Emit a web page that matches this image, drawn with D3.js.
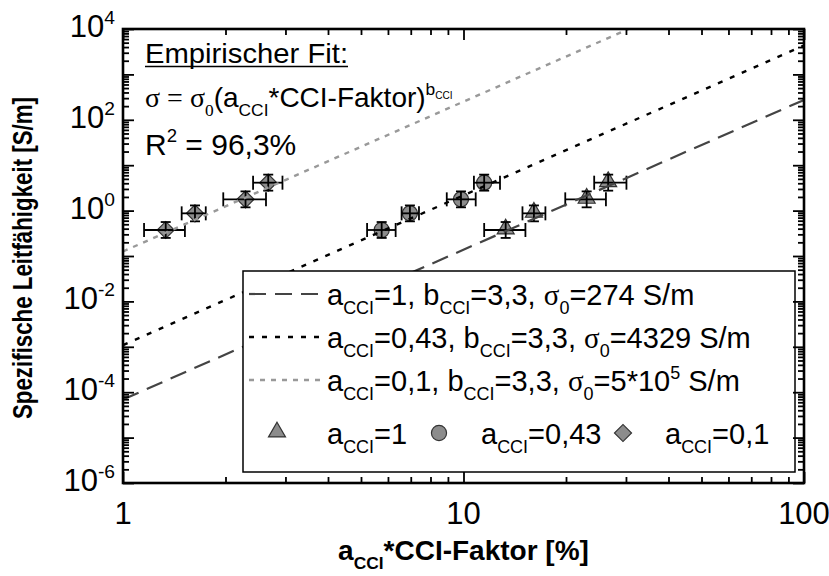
<!DOCTYPE html>
<html>
<head>
<meta charset="utf-8">
<script src="https://cdn.jsdelivr.net/npm/d3@7"></script>
<style>
  body { margin: 0; background: #fff; }
  text { font-family: "Liberation Sans", Arial, sans-serif; fill: #000; }
</style>
</head>
<body>
<svg id="chart" width="829" height="576"></svg>
<script>
// measured values, x = a_CCI*CCI-Faktor [%], y = sigma [S/m]
var sigma   = [0.374, 0.87, 1.77, 4.12];
var sigmaLo = [0.25, 0.58, 1.18, 2.75];
var sigmaHi = [0.56, 1.30, 2.65, 6.20];

var xTri   = [13.3, 16.1, 23.0, 26.6];   // a_CCI = 1
var xTriLo = [11.5, 14.9, 19.9, 24.2];
var xTriHi = [15.2, 17.4, 26.2, 30.1];

var xCirc   = [5.75, 6.96, 9.83, 11.5];  // a_CCI = 0,43
var xCircLo = [5.21, 6.58, 8.93, 10.73];
var xCircHi = [6.32, 7.40, 10.86, 12.8];

var xDia   = [1.335, 1.627, 2.29, 2.67]; // a_CCI = 0,1
var xDiaLo = [1.153, 1.487, 1.97, 2.41];
var xDiaHi = [1.52, 1.75, 2.63, 2.94];

// fit lines: value at x = 1 and x = 100
var fitX    = [1, 100];
var fitA1   = [6.9e-5, 274];
var fitA043 = [1.09e-3, 4329];
var fitA01  = [0.126, 5e5];

var xTickLabels = ["1", "10", "100"];
var yExponents  = [4, 2, 0, -2, -4, -6];

var margin = {top: 29, right: 25, bottom: 93, left: 123},
    width = 829 - margin.left - margin.right,
    height = 576 - margin.top - margin.bottom;

var svg = d3.select("#chart");
var g = svg.append("g").attr("transform", "translate(" + margin.left + "," + margin.top + ")");

var x = d3.scaleLog().domain([1, 100]).range([0, width]);
var y = d3.scaleLog().domain([1e-6, 1e4]).range([height, 0]);

g.append("clipPath").attr("id", "clip")
  .append("rect").attr("width", width).attr("height", height);

var plot = g.append("g").attr("clip-path", "url(#clip)");

// rich text helper: parts = [text, kind]
function rich(sel, parts, size) {
  var off = 0;
  parts.forEach(function(p) {
    var kind = p[1] || "";
    var target = 0, fs = size, fam = null;
    if (kind == "sub") { target = size * 0.32; fs = size * 0.62; }
    if (kind == "ssub") { target = size * 0.32; fs = size * 0.62; fam = "Liberation Serif, Times New Roman, serif"; }
    if (kind == "sup") { target = -size * 0.42; fs = size * 0.62; }
    if (kind == "supsub") { target = -size * 0.3; fs = size * 0.36; }
    if (kind == "serif") { fam = "Liberation Serif, Times New Roman, serif"; }
    var t = sel.append("tspan").attr("dy", target - off).style("font-size", fs + "px").text(p[0]);
    if (fam) t.style("font-family", fam);
    off = target;
  });
}

// fit lines
var fitLine = d3.line().x(function(d) { return x(d[0]); }).y(function(d) { return y(d[1]); });
var fits = [
  {vals: fitA1, color: "#444", dash: "17,9", w: 2.2},
  {vals: fitA043, color: "#000", dash: "5,8", w: 2.4},
  {vals: fitA01, color: "#999", dash: "5,6", w: 2.4}
];

// markers
var groups = [
  {xs: xTri, lo: xTriLo, hi: xTriHi, sym: d3.symbol(d3.symbolTriangle, 125), rot: 0, dy: -1},
  {xs: xCirc, lo: xCircLo, hi: xCircHi, sym: d3.symbol(d3.symbolCircle, 180), rot: 0, dy: 0},
  {xs: xDia, lo: xDiaLo, hi: xDiaHi, sym: d3.symbol(d3.symbolSquare, 145), rot: 45, dy: 0}
];

groups.forEach(function(gr) {
  gr.xs.forEach(function(xv, i) {
    plot.append("path")
      .attr("d", gr.sym())
      .attr("transform", "translate(" + x(xv) + "," + (y(sigma[i]) + gr.dy) + ") rotate(" + gr.rot + ")")
      .attr("fill", "#8c8c8c").attr("stroke", "#333").attr("stroke-width", 1.2);
  });
});

// error bars
groups.forEach(function(gr) {
  gr.xs.forEach(function(xv, i) {
    var cx = x(xv), cy = y(sigma[i]);
    var eb = plot.append("g").attr("stroke", "#000").attr("stroke-width", 1.8).attr("fill", "none");
    eb.append("line").attr("x1", x(gr.lo[i])).attr("x2", x(gr.hi[i])).attr("y1", cy).attr("y2", cy);
    eb.append("line").attr("x1", x(gr.lo[i])).attr("x2", x(gr.lo[i])).attr("y1", cy - 7).attr("y2", cy + 7);
    eb.append("line").attr("x1", x(gr.hi[i])).attr("x2", x(gr.hi[i])).attr("y1", cy - 7).attr("y2", cy + 7);
    eb.append("line").attr("x1", cx).attr("x2", cx).attr("y1", y(sigmaLo[i])).attr("y2", y(sigmaHi[i]));
    eb.append("line").attr("x1", cx - 5).attr("x2", cx + 5).attr("y1", y(sigmaLo[i])).attr("y2", y(sigmaLo[i]));
    eb.append("line").attr("x1", cx - 5).attr("x2", cx + 5).attr("y1", y(sigmaHi[i])).attr("y2", y(sigmaHi[i]));
  });
});

fits.forEach(function(f) {
  plot.append("path")
    .datum(fitX.map(function(xv, i) { return [xv, f.vals[i]]; }))
    .attr("d", fitLine)
    .attr("fill", "none").attr("stroke", f.color)
    .attr("stroke-width", f.w).attr("stroke-dasharray", f.dash);
});

// annotation
var ann = g.append("g").attr("transform", "translate(22,0)");
ann.append("text").attr("x", 0).attr("y", 34).style("font-size", "28px")
  .attr("textLength", 203).attr("lengthAdjust", "spacingAndGlyphs").text("Empirischer Fit:");
ann.append("line").attr("x1", 0).attr("x2", 203).attr("y1", 37.5).attr("y2", 37.5)
  .attr("stroke", "#000").attr("stroke-width", 1.6);
var f1 = ann.append("text").attr("x", 0).attr("y", 78).style("font-size", "28px");
rich(f1, [["\u03c3 = \u03c3", "serif"], ["0", "ssub"], ["(a", ""], ["CCI", "sub"], ["*CCI-Faktor)", ""], ["b", "sup"], ["CCI", "supsub"]], 28);
var f2 = ann.append("text").attr("x", 0).attr("y", 126).style("font-size", "30px");
rich(f2, [["R", ""], ["2", "sup"], [" = 96,3%", ""]], 30);

// legend
var lg = g.append("g").attr("transform", "translate(" + (243 - margin.left) + "," + (271 - margin.top) + ")");
lg.append("rect").attr("width", 552).attr("height", 201)
  .attr("fill", "#fff").attr("stroke", "#000").attr("stroke-width", 1.5);
var legRows = [
  [["a", ""], ["CCI", "sub"], ["=1, b", ""], ["CCI", "sub"], ["=3,3, ", ""], ["\u03c3", "serif"], ["0", "sub"], ["=274 S/m", ""]],
  [["a", ""], ["CCI", "sub"], ["=0,43, b", ""], ["CCI", "sub"], ["=3,3, ", ""], ["\u03c3", "serif"], ["0", "sub"], ["=4329 S/m", ""]],
  [["a", ""], ["CCI", "sub"], ["=0,1, b", ""], ["CCI", "sub"], ["=3,3, ", ""], ["\u03c3", "serif"], ["0", "sub"], ["=5*10", ""], ["5", "sup"], [" S/m", ""]]
];
legRows.forEach(function(parts, i) {
  var ly = 23 + i * 43;
  lg.append("line").attr("x1", 6).attr("x2", 78).attr("y1", ly).attr("y2", ly)
    .attr("stroke", fits[i].color).attr("stroke-width", fits[i].w).attr("stroke-dasharray", fits[i].dash);
  var t = lg.append("text").attr("x", 84).attr("y", ly + 11).style("font-size", "29px");
  rich(t, parts, 29);
});
var symRow = [
  {sx: 34, tx: 84, label: "=1"},
  {sx: 196, tx: 238, label: "=0,43"},
  {sx: 380, tx: 422, label: "=0,1"}
];
symRow.forEach(function(s, i) {
  lg.append("path").attr("d", groups[i].sym())
    .attr("transform", "translate(" + s.sx + "," + (162 + groups[i].dy) + ") rotate(" + groups[i].rot + ")")
    .attr("fill", "#8c8c8c").attr("stroke", "#333").attr("stroke-width", 1.2);
  var t = lg.append("text").attr("x", s.tx).attr("y", 173).style("font-size", "29px");
  rich(t, [["a", ""], ["CCI", "sub"], [s.label, ""]], 29);
});

// axes with inward ticks on all four sides
var xMinor = [], yMinor = [];
[1, 10].forEach(function(d) { for (var k = 2; k <= 9; k++) xMinor.push(d * k); });
for (var e = -6; e < 4; e++) for (var k = 2; k <= 9; k++) yMinor.push(k * Math.pow(10, e));
var xMajor = [1, 10, 100];
var yMajor = d3.range(-6, 5).map(function(e) { return Math.pow(10, e); });

function ticks(axisFn, scale, vals, len, transform) {
  g.append("g").attr("transform", transform)
    .call(axisFn(scale).tickValues(vals).tickSize(-len).tickFormat(""))
    .call(function(s) { s.select(".domain").remove(); s.selectAll("line").attr("stroke-width", 1.8); });
}
ticks(d3.axisBottom, x, xMinor, 6, "translate(0," + height + ")");
ticks(d3.axisBottom, x, xMajor, 11, "translate(0," + height + ")");
ticks(d3.axisTop, x, xMinor, 6, "translate(0,0)");
ticks(d3.axisTop, x, xMajor, 11, "translate(0,0)");
ticks(d3.axisLeft, y, yMinor, 6, "translate(0,0)");
ticks(d3.axisLeft, y, yMajor, 11, "translate(0,0)");
ticks(d3.axisRight, y, yMinor, 6, "translate(" + width + ",0)");
ticks(d3.axisRight, y, yMajor, 11, "translate(" + width + ",0)");

g.append("rect").attr("width", width).attr("height", height)
  .attr("fill", "none").attr("stroke", "#000").attr("stroke-width", 2.6);

// tick labels
xTickLabels.forEach(function(lbl) {
  g.append("text").attr("x", x(+lbl)).attr("y", height + 41)
    .attr("text-anchor", "middle").style("font-size", "31px").text(lbl);
});
yExponents.forEach(function(e) {
  var t = g.append("text").attr("x", -8).attr("y", y(Math.pow(10, e)) + 8)
    .attr("text-anchor", "end").style("font-size", "31px");
  rich(t, [["10", ""], [String(e), "sup"]], 31);
});

// axis titles
var xt = g.append("text").attr("x", width / 2).attr("y", height + 77)
  .attr("text-anchor", "middle").style("font-size", "28px").style("font-weight", "bold");
rich(xt, [["a", ""], ["CCI", "sub"], ["*CCI-Faktor [%]", ""]], 28);

g.append("text").attr("transform", "translate(-91," + (height / 2 + 2) + ") rotate(-90)")
  .attr("text-anchor", "middle").style("font-size", "28px").style("font-weight", "bold")
  .attr("textLength", 322).attr("lengthAdjust", "spacingAndGlyphs")
  .text("Spezifische Leitf\u00e4higkeit [S/m]");
</script>
</body>
</html>
